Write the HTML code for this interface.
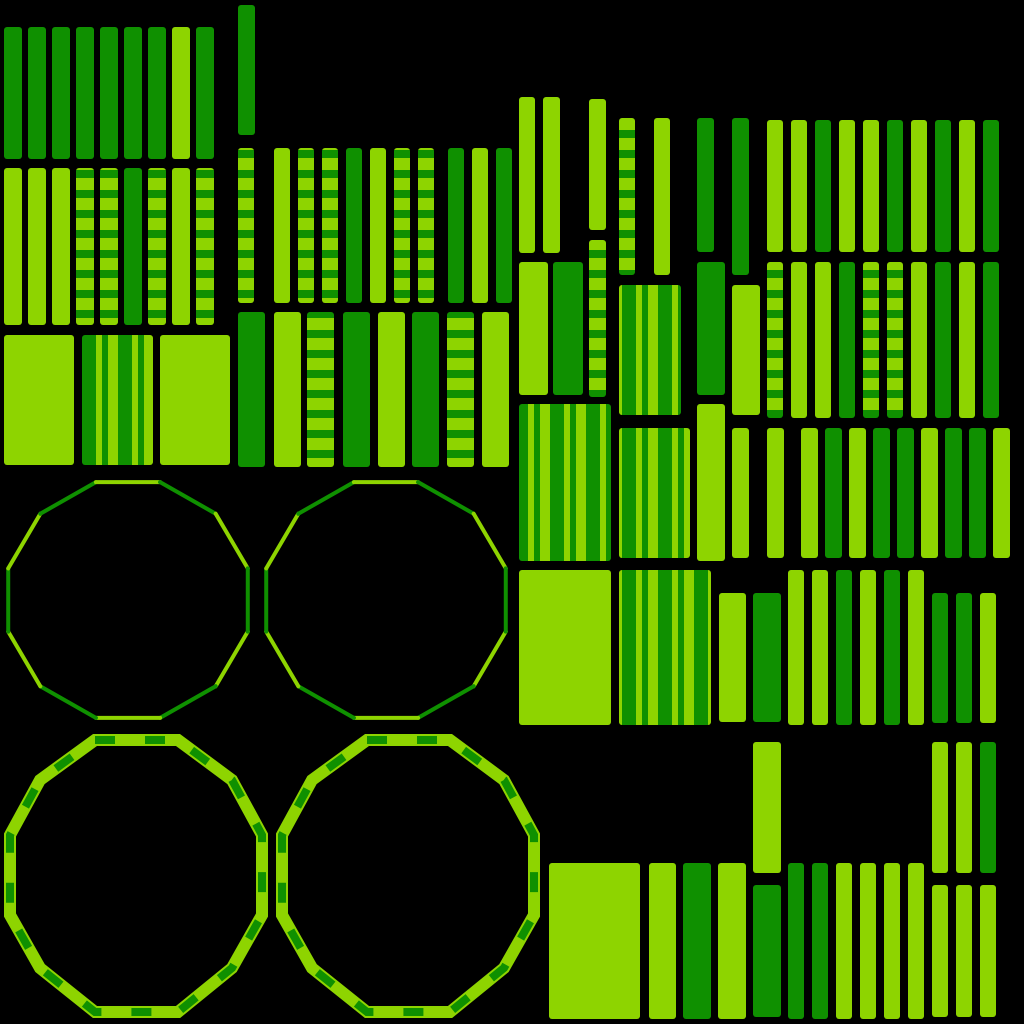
<!DOCTYPE html>
<html><head><meta charset="utf-8"><style>html,body{margin:0;background:#000}svg{display:block}</style></head>
<body>
<svg width="1024" height="1024" viewBox="0 0 1024 1024" xmlns="http://www.w3.org/2000/svg">
<defs>
<pattern id="st" width="16" height="20" patternUnits="userSpaceOnUse">
<rect width="16" height="20" fill="#8ed400"/><rect y="10" width="16" height="8" fill="#0f9000"/>
</pattern>
<pattern id="mx" width="36" height="10" patternUnits="userSpaceOnUse">
<rect width="36" height="10" fill="#0f9000"/><rect x="0" width="10" height="10" fill="#8ed400"/><rect x="24" width="6" height="10" fill="#8ed400"/>
</pattern>
</defs>
<rect width="1024" height="1024" fill="#000"/>
<g id="shapes"></g>
<g id="octs" fill="none" stroke-width="4"></g>
<g fill="none" stroke-width="12">
<polygon points="95,740 178,740 232,780 262,835 262,915 232,968 178,1012 95,1012 40,968 10,915 10,835 40,780" stroke="#8ed400"/>
<polygon points="367,740 450,740 504,780 534,835 534,915 504,968 450,1012 367,1012 312,968 282,915 282,835 312,780" stroke="#8ed400"/>
</g>
<g fill="none" stroke-width="8" stroke="#0f9000" stroke-dasharray="20 30">
<polygon points="95,740 178,740 232,780 262,835 262,915 232,968 178,1012 95,1012 40,968 10,915 10,835 40,780"/>
<polygon points="367,740 450,740 504,780 534,835 534,915 504,968 450,1012 367,1012 312,968 282,915 282,835 312,780"/>
</g>
</svg>
<script>
const L='#8ed400',D='#0f9000',S='url(#st)',M='url(#mx)';
const rects=[];
function row(xs,cols,y,h,w){xs.forEach((x,i)=>rects.push([x,y,w,h,cols[i]]));}
const xs9=[4,28,52,76,100,124,148,172,196];
row(xs9,[D,D,D,D,D,D,D,L,D],27,132,18);
row(xs9,[L,L,L,S,S,D,S,L,S],168,157,18);
rects.push([4,335,70,130,L],[82,335,71,130,M],[160,335,70,130,L],[238,5,17,130,D]);
row([238,274,298,322,346,370,394,418,448,472,496],[S,L,S,S,D,L,S,S,D,L,D],148,155,16);
row([238,274,307,343,378,412,447,482],[D,L,S,D,L,D,S,L],312,155,27);
rects.push([519,97,16,156,L],[543,97,17,156,L],[589,99,17,131,L],[589,240,17,157,S],
[519,262,29,133,L],[553,262,30,133,D],[619,118,16,157,S],[654,118,16,157,L],[697,118,17,134,D],[732,118,17,157,D]);
const xs10=[767,791,815,839,863,887,911,935,959,983];
row(xs10,[L,L,D,L,L,D,L,D,L,D],120,132,16);
row(xs10,[S,L,L,D,S,S,L,D,L,D],262,156,16);
rects.push([619,285,62,130,M],[697,262,28,133,D],[732,285,28,130,L],
[519,404,92,157,M],[619,428,71,130,M],[697,404,28,157,L]);
row([732,767,801,825,849,873,897,921,945,969,993],[L,L,L,D,L,D,D,L,D,D,L],428,130,17);
rects.push([519,570,92,155,L],[619,570,92,155,M],[719,593,27,129,L],[753,593,28,129,D]);
row([788,812,836,860,884,908],[L,L,D,L,D,L],570,155,16);
row([932,956,980],[D,D,L],593,130,16);
rects.push([753,742,28,131,L],[753,885,28,132,D],[549,863,91,156,L],[649,863,27,156,L],[683,863,28,156,D],[718,863,28,156,L]);
row([788,812,836,860,884,908],[D,D,L,L,L,L],863,156,16);
row([932,956,980],[L,L,D],742,131,16);
row([932,956,980],[L,L,L],885,132,16);
const NS='http://www.w3.org/2000/svg';
const g=document.getElementById('shapes');
rects.forEach(r=>{
 const e=document.createElementNS(NS,'rect');
 e.setAttribute('x',r[0]);e.setAttribute('y',r[1]);e.setAttribute('width',r[2]);e.setAttribute('height',r[3]);
 e.setAttribute('rx',3);e.setAttribute('fill',r[4]);
 
 
 g.appendChild(e);
});
const og=document.getElementById('octs');
[[128,600],[386,600]].forEach(c=>{
 const pts=[];
 for(let i=0;i<12;i++){const a=Math.PI/12+i*Math.PI/6;pts.push([c[0]+124*Math.cos(a),c[1]+122*Math.sin(a)]);}
 for(let i=0;i<12;i++){
  const p=pts[i],q=pts[(i+1)%12];
  const l=document.createElementNS(NS,'line');
  l.setAttribute('x1',p[0]);l.setAttribute('y1',p[1]);l.setAttribute('x2',q[0]);l.setAttribute('y2',q[1]);
  l.setAttribute('stroke',i%2?D:L);l.setAttribute('stroke-linecap','round');
  
  
  og.appendChild(l);
 }
});
</script>
</body></html>
